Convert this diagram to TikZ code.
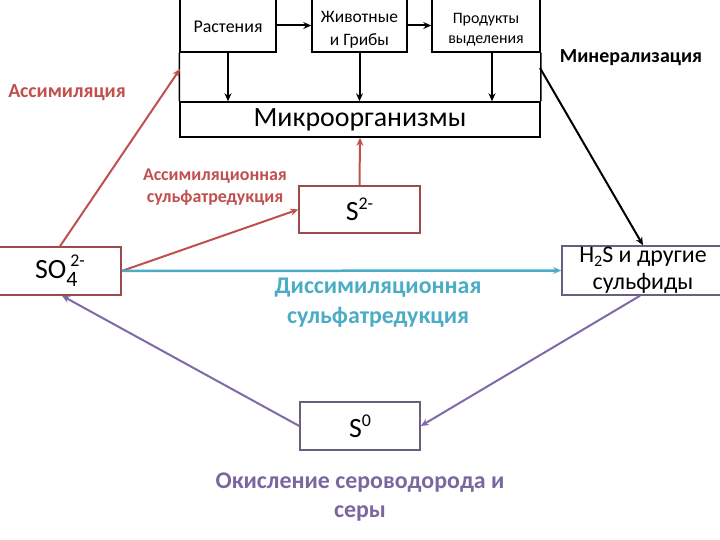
\documentclass[tikz,border=0pt]{standalone}
\usepackage{fontspec}
\setmainfont{Carlito}
\usetikzlibrary{arrows.meta}
\definecolor{assimred}{HTML}{C0504D}
\definecolor{boxred}{HTML}{9E4A48}
\definecolor{teal}{HTML}{4BACC6}
\definecolor{purp}{HTML}{7A67A0}
\definecolor{purpline}{HTML}{7F6AA8}
\definecolor{boxpurp}{HTML}{6A5F80}
\newcommand{\lowtext}[2]{\raisebox{-#1}[\height][\depth]{\begin{tabular}{@{}c@{}}#2\end{tabular}}}
\tikzset{
  blackbox/.style={draw=black, line width=1.5bp, minimum height=53bp, inner sep=0pt, align=center},
  chembox/.style={draw, line width=1.5bp, minimum height=48bp, inner sep=0pt, fill=white},
  arr/.style={line width=2bp, -{Stealth[length=8bp,width=7bp]}},
  lbl/.style={font=\bfseries, align=center, inner sep=0pt}
}
\begin{document}
\begin{tikzpicture}[x=1bp,y=-1bp]
\useasboundingbox (0,0) rectangle (720,540);
% top boxes
\node[blackbox, minimum width=96bp, font=\fontsize{18}{22}\selectfont] (rast) at (228,25.5) {\lowtext{3bp}{Растения}};
\node[blackbox, minimum width=95bp, font=\fontsize{17.5}{23}\selectfont] (zhiv) at (359.5,25.5) {\lowtext{4bp}{Животные\\и Грибы}};
\node[blackbox, minimum width=108bp, font=\fontsize{16}{20}\selectfont] (prod) at (486,25.5) {\lowtext{4bp}{Продукты\\выделения}};
\node[draw, line width=1.5bp, minimum width=360bp, minimum height=35bp, inner sep=0pt, font=\fontsize{28}{32}\selectfont] (micro) at (360,119.5) {Микроорганизмы};
\draw[line width=1.5bp] (rast.south west) -- (micro.north west);
\draw[line width=1.5bp] (prod.south east) -- (micro.north east);
\draw[arr] (rast.east) -- (zhiv.west);
\draw[arr] (zhiv.east) -- (prod.west);
\draw[arr] (rast.south) -- (micro.north -| rast.south);
\draw[arr] (zhiv.south) -- (micro.north -| zhiv.south);
\coordinate (prodout) at ([xshift=6bp]prod.south);
\draw[arr] (prodout) -- (micro.north -| prodout);
% chemical boxes
\node[chembox, draw=boxred, minimum width=122bp, font=\fontsize{28}{32}\selectfont] (so4) at (60,271) {SO\makebox[0pt][l]{\raisebox{-8bp}{\fontsize{22}{24}\selectfont 4}}\hspace{4bp}\raisebox{12bp}{\fontsize{18}{20}\selectfont 2-}};
\node[chembox, draw=boxred, minimum width=121bp, minimum height=47bp, font=\fontsize{28}{32}\selectfont] (s2) at (359.5,209.5) {S\raisebox{11bp}{\fontsize{18}{20}\selectfont 2-}};
\node[chembox, draw=boxpurp, minimum width=162bp, minimum height=49bp, align=center, font=\fontsize{24}{27}\selectfont] (h2s) at (643,270.5) {H\raisebox{-4bp}{\fontsize{16}{18}\selectfont 2}S и другие\\сульфиды};
\node[chembox, draw=boxpurp, minimum width=120bp, font=\fontsize{28}{32}\selectfont] (s0) at (360,426) {S\raisebox{11bp}{\fontsize{18}{20}\selectfont 0}};
% mineralization
\coordinate (minstart) at (540,68);
\draw[arr] (minstart) -- (h2s.north);
\node[lbl, font=\bfseries\fontsize{20}{23}\selectfont] (minlbl) at (631,58) {Минерализация};
% assimilation
\coordinate (assimend) at (180,69);
\draw[arr, color=assimred] (so4.north) -- (assimend);
\node[lbl, text=assimred, font=\bfseries\fontsize{20}{23}\selectfont] (assimlbl) at (67,93) {Ассимиляция};
\draw[arr, color=assimred] (so4.east) -- (s2.west);
\draw[arr, color=assimred] (s2.north) -- (micro.south);
\node[lbl, text=assimred, font=\bfseries\fontsize{18}{22}\selectfont] (asrlbl) at (215,187) {Ассимиляционная\\сульфатредукция};
% dissimilation
\draw[arr, line width=2.5bp, color=teal] (so4.east) -- (h2s.west);
\node[lbl, text=teal, font=\bfseries\fontsize{24}{30}\selectfont] (dislbl) at (378,303) {Диссимиляционная\\сульфатредукция};
% oxidation
\draw[arr, color=purpline] (s0.west) -- ([xshift=2bp]so4.south);
\draw[arr, color=purpline] ([xshift=-3bp]h2s.south) -- (s0.east);
\node[lbl, text=purp, font=\bfseries\fontsize{24}{30}\selectfont] (oxlbl) at (360,497) {Окисление сероводорода и\\серы};
\end{tikzpicture}
\end{document}
